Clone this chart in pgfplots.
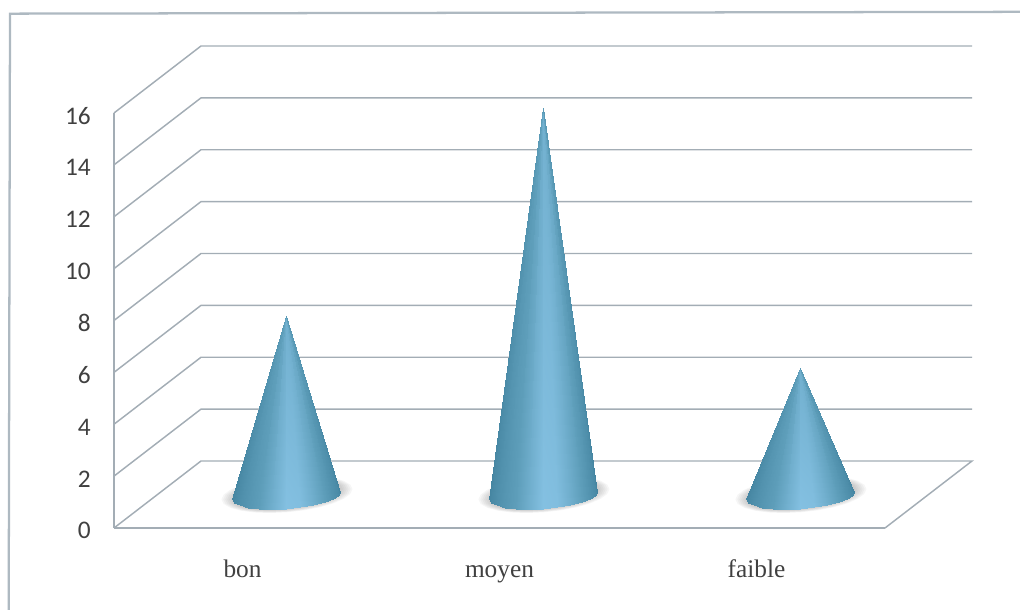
\documentclass[border=0pt]{standalone}
\usepackage{fontspec}
\setmainfont{Carlito}
\newfontfamily\serif{Liberation Serif}
\usepackage{pgfplots}
\usepackage{pgfplotstable}
\usepgfplotslibrary{patchplots}
\pgfplotsset{compat=1.18}
\definecolor{gridc}{HTML}{A3ADB5}
\definecolor{framec}{HTML}{AEB9C1}
\definecolor{labc}{HTML}{404040}

% Quads of a cone seen from the front, four rows each:
% two neighbours on the base arc (t=0), then the same two at the apex (t=1)
\pgfplotstableread{
u      a     t  c
-1.000 0.000 0  0.05
-0.966 0.259 0  0.12
-0.966 0.259 1  0.45
-1.000 0.000 1  0.42
-0.966 0.259 0  0.12
-0.866 0.500 0  0.24
-0.866 0.500 1  0.50
-0.966 0.259 1  0.45
-0.866 0.500 0  0.24
-0.707 0.707 0  0.36
-0.707 0.707 1  0.54
-0.866 0.500 1  0.50
-0.707 0.707 0  0.36
-0.500 0.866 0  0.50
-0.500 0.866 1  0.60
-0.707 0.707 1  0.54
-0.500 0.866 0  0.50
-0.259 0.966 0  0.72
-0.259 0.966 1  0.68
-0.500 0.866 1  0.60
-0.259 0.966 0  0.72
 0.000 1.000 0  0.95
 0.000 1.000 1  0.74
-0.259 0.966 1  0.68
 0.000 1.000 0  0.95
 0.259 0.966 0  0.92
 0.259 0.966 1  0.73
 0.000 1.000 1  0.74
 0.259 0.966 0  0.92
 0.500 0.866 0  0.72
 0.500 0.866 1  0.68
 0.259 0.966 1  0.73
 0.500 0.866 0  0.72
 0.707 0.707 0  0.50
 0.707 0.707 1  0.60
 0.500 0.866 1  0.68
 0.707 0.707 0  0.50
 0.866 0.500 0  0.30
 0.866 0.500 1  0.50
 0.707 0.707 1  0.60
 0.866 0.500 0  0.30
 0.966 0.259 0  0.14
 0.966 0.259 1  0.44
 0.866 0.500 1  0.50
 0.966 0.259 0  0.14
 1.000 0.000 0  0.03
 1.000 0.000 1  0.42
 0.966 0.259 1  0.44
}\conepts

% Unit ellipse for the soft floor shadow
\pgfplotstableread{
u      v
 1.000  0.000
 0.966  0.259
 0.866  0.500
 0.707  0.707
 0.500  0.866
 0.259  0.966
 0.000  1.000
-0.259  0.966
-0.500  0.866
-0.707  0.707
-0.866  0.500
-0.966  0.259
-1.000  0.000
-0.966 -0.259
-0.866 -0.500
-0.707 -0.707
-0.500 -0.866
-0.259 -0.966
 0.000 -1.000
 0.259 -0.966
 0.500 -0.866
 0.707 -0.707
 0.866 -0.500
 0.966 -0.259
}\ellipsepts

% #1 centre on the x axis, #2 value
\newcommand{\cone}[2]{%
  \addplot[patch, patch type=rectangle, shader=interp, point meta=explicit]
    table[x expr={#1+0.21*\thisrow{u}*(1-\thisrow{t})},
          y expr={(1-\thisrow{t})*(1.25-0.50*\thisrow{a}+0.15*\thisrow{u})+\thisrow{t}*(#2+1.18)},
          meta=c] {\conepts};
}
% #1 centre, #2 size of the shadow layer
\newcommand{\shadowlayer}[2]{%
  \addplot[draw=none, fill=black!55, fill opacity=0.065, forget plot]
    table[x expr={#1+0.002+#2*0.25*\thisrow{u}},
          y expr={1.30+#2*0.68*\thisrow{v}+0.2*\thisrow{u}}] {\ellipsepts} -- cycle;
}
\newcommand{\shadow}[1]{%
  \shadowlayer{#1}{1.02}\shadowlayer{#1}{0.99}\shadowlayer{#1}{0.96}%
  \shadowlayer{#1}{0.93}\shadowlayer{#1}{0.90}\shadowlayer{#1}{0.87}%
  \shadowlayer{#1}{0.84}%
}

\begin{document}
\begin{tikzpicture}
\useasboundingbox (0,0) rectangle (765pt,457.5pt);
\begin{axis}[
  at={(85.5pt,61.5pt)}, anchor=south west,
  scale only axis, width=578.25pt, height=311.25pt,
  xmin=0, xmax=3, ymin=0, ymax=16,
  clip=false,
  axis x line*=bottom, axis y line*=left,
  axis line style={gridc, line width=1.1pt},
  xtick={0.5,1.5,2.5}, xticklabels={bon,moyen,faible},
  ytick={0,2,...,16},
  major tick length=0pt,
  tick style={draw=none},
  xticklabel style={font=\serif\fontsize{19}{21}\selectfont, text=labc, anchor=base, inner sep=0pt, yshift=-37.5pt},
  yticklabel style={font=\fontsize{19}{21}\selectfont, text=labc, anchor=east, inner sep=0pt, xshift=-17.25pt, yshift=-2pt},
  /pgf/number format/assume math mode=true,
  colormap={conecol}{rgb255=(66,130,158) rgb255=(94,158,186) rgb255=(136,196,230)},
  point meta min=0, point meta max=1,
]
% outer frame, top and left sides
\addplot[framec, line width=1.7pt, forget plot] coordinates {(-0.4097,-3.16) (-0.4047,19.83) (3.5253,19.90)};

% side wall and back wall lines at every value
\addplot[gridc, line width=1.1pt, forget plot] coordinates {(3,0) (3.3385,2.583) (0.3385,2.583) (0,0)};
\addplot[gridc, line width=1.1pt, forget plot] coordinates {(0,2) (0.3385,4.583) (3.3385,4.583)};
\addplot[gridc, line width=1.1pt, forget plot] coordinates {(0,4) (0.3385,6.583) (3.3385,6.583)};
\addplot[gridc, line width=1.1pt, forget plot] coordinates {(0,6) (0.3385,8.583) (3.3385,8.583)};
\addplot[gridc, line width=1.1pt, forget plot] coordinates {(0,8) (0.3385,10.583) (3.3385,10.583)};
\addplot[gridc, line width=1.1pt, forget plot] coordinates {(0,10) (0.3385,12.583) (3.3385,12.583)};
\addplot[gridc, line width=1.1pt, forget plot] coordinates {(0,12) (0.3385,14.583) (3.3385,14.583)};
\addplot[gridc, line width=1.1pt, forget plot] coordinates {(0,14) (0.3385,16.583) (3.3385,16.583)};
\addplot[gridc, line width=1.1pt, forget plot] coordinates {(0,16) (0.3385,18.583) (3.3385,18.583)};

\shadow{0.671}\shadow{1.671}\shadow{2.671}
\cone{0.671}{7}
\cone{1.671}{15}
\cone{2.671}{5}
\end{axis}
\end{tikzpicture}
\end{document}
